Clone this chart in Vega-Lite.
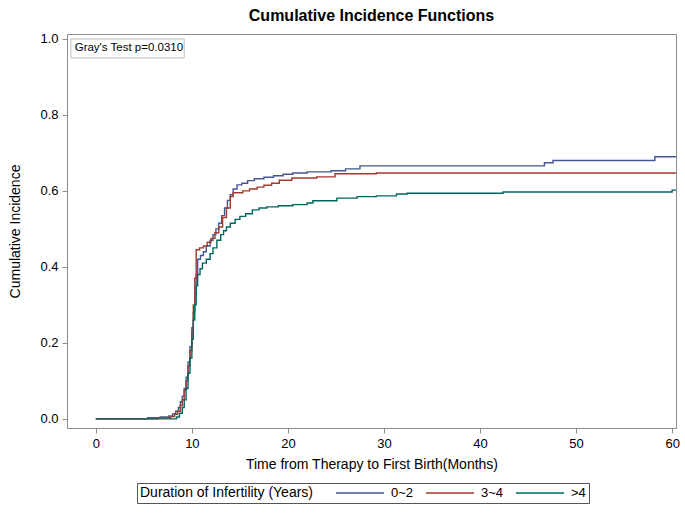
{
  "$schema": "https://vega.github.io/schema/vega-lite/v6.json",
  "width": 609,
  "height": 394,
  "autosize": "none",
  "padding": {"left": 67, "top": 34, "right": 9, "bottom": 85},
  "background": "white",
  "config": {
    "font": "Liberation Sans",
    "view": {"stroke": "#8c8c8c", "strokeWidth": 1}
  },
  "title": {
    "text": "Cumulative Incidence Functions",
    "font": "Liberation Sans",
    "fontSize": 16,
    "fontWeight": "bold",
    "color": "#000000",
    "anchor": "middle",
    "offset": 9
  },
  "datasets": {
    "curves": [
      {"t": 0, "v": 0, "g": "0~2"},
      {"t": 5.4, "v": 0.003, "g": "0~2"},
      {"t": 6.7, "v": 0.005, "g": "0~2"},
      {"t": 7.6, "v": 0.008, "g": "0~2"},
      {"t": 8.0, "v": 0.013, "g": "0~2"},
      {"t": 8.3, "v": 0.02, "g": "0~2"},
      {"t": 8.6, "v": 0.03, "g": "0~2"},
      {"t": 8.8, "v": 0.045, "g": "0~2"},
      {"t": 9.0, "v": 0.06, "g": "0~2"},
      {"t": 9.2, "v": 0.08, "g": "0~2"},
      {"t": 9.4, "v": 0.11, "g": "0~2"},
      {"t": 9.6, "v": 0.15, "g": "0~2"},
      {"t": 9.8, "v": 0.19, "g": "0~2"},
      {"t": 10.0, "v": 0.23, "g": "0~2"},
      {"t": 10.15, "v": 0.28, "g": "0~2"},
      {"t": 10.3, "v": 0.33, "g": "0~2"},
      {"t": 10.45, "v": 0.38, "g": "0~2"},
      {"t": 10.6, "v": 0.42, "g": "0~2"},
      {"t": 10.9, "v": 0.43, "g": "0~2"},
      {"t": 11.2, "v": 0.44, "g": "0~2"},
      {"t": 11.5, "v": 0.455, "g": "0~2"},
      {"t": 11.9, "v": 0.47, "g": "0~2"},
      {"t": 12.2, "v": 0.485, "g": "0~2"},
      {"t": 12.5, "v": 0.5, "g": "0~2"},
      {"t": 12.8, "v": 0.515, "g": "0~2"},
      {"t": 13.1, "v": 0.535, "g": "0~2"},
      {"t": 13.4, "v": 0.555, "g": "0~2"},
      {"t": 13.7, "v": 0.575, "g": "0~2"},
      {"t": 14.0, "v": 0.59, "g": "0~2"},
      {"t": 14.3, "v": 0.605, "g": "0~2"},
      {"t": 14.7, "v": 0.616, "g": "0~2"},
      {"t": 15.2, "v": 0.62, "g": "0~2"},
      {"t": 15.8, "v": 0.627, "g": "0~2"},
      {"t": 16.5, "v": 0.632, "g": "0~2"},
      {"t": 17.5, "v": 0.636, "g": "0~2"},
      {"t": 18.5, "v": 0.64, "g": "0~2"},
      {"t": 19.5, "v": 0.644, "g": "0~2"},
      {"t": 20.5, "v": 0.647, "g": "0~2"},
      {"t": 22.0, "v": 0.65, "g": "0~2"},
      {"t": 24.5, "v": 0.653, "g": "0~2"},
      {"t": 26.0, "v": 0.658, "g": "0~2"},
      {"t": 27.5, "v": 0.666, "g": "0~2"},
      {"t": 46.7, "v": 0.674, "g": "0~2"},
      {"t": 47.6, "v": 0.68, "g": "0~2"},
      {"t": 58.2, "v": 0.69, "g": "0~2"},
      {"t": 60.4, "v": 0.69, "g": "0~2"},

      {"t": 0, "v": 0, "g": "3~4"},
      {"t": 6.5, "v": 0.003, "g": "3~4"},
      {"t": 7.8, "v": 0.006, "g": "3~4"},
      {"t": 8.2, "v": 0.012, "g": "3~4"},
      {"t": 8.5, "v": 0.02, "g": "3~4"},
      {"t": 8.8, "v": 0.035, "g": "3~4"},
      {"t": 9.0, "v": 0.05, "g": "3~4"},
      {"t": 9.2, "v": 0.075, "g": "3~4"},
      {"t": 9.4, "v": 0.1, "g": "3~4"},
      {"t": 9.6, "v": 0.14, "g": "3~4"},
      {"t": 9.8, "v": 0.18, "g": "3~4"},
      {"t": 10.0, "v": 0.24, "g": "3~4"},
      {"t": 10.15, "v": 0.3, "g": "3~4"},
      {"t": 10.3, "v": 0.37, "g": "3~4"},
      {"t": 10.45, "v": 0.445, "g": "3~4"},
      {"t": 10.8, "v": 0.45, "g": "3~4"},
      {"t": 11.2, "v": 0.455, "g": "3~4"},
      {"t": 11.6, "v": 0.465, "g": "3~4"},
      {"t": 12.0, "v": 0.475, "g": "3~4"},
      {"t": 12.4, "v": 0.49, "g": "3~4"},
      {"t": 12.8, "v": 0.505, "g": "3~4"},
      {"t": 13.2, "v": 0.53, "g": "3~4"},
      {"t": 13.6, "v": 0.555, "g": "3~4"},
      {"t": 14.0, "v": 0.585, "g": "3~4"},
      {"t": 14.3, "v": 0.595, "g": "3~4"},
      {"t": 15.3, "v": 0.6, "g": "3~4"},
      {"t": 16.0, "v": 0.605, "g": "3~4"},
      {"t": 16.8, "v": 0.61, "g": "3~4"},
      {"t": 17.5, "v": 0.615, "g": "3~4"},
      {"t": 18.3, "v": 0.62, "g": "3~4"},
      {"t": 19.1, "v": 0.628, "g": "3~4"},
      {"t": 20.4, "v": 0.634, "g": "3~4"},
      {"t": 23.0, "v": 0.637, "g": "3~4"},
      {"t": 24.9, "v": 0.645, "g": "3~4"},
      {"t": 29.2, "v": 0.647, "g": "3~4"},
      {"t": 60.4, "v": 0.647, "g": "3~4"},

      {"t": 0, "v": 0, "g": ">4"},
      {"t": 8.4, "v": 0.005, "g": ">4"},
      {"t": 8.7, "v": 0.015, "g": ">4"},
      {"t": 9.0, "v": 0.03, "g": ">4"},
      {"t": 9.2, "v": 0.05, "g": ">4"},
      {"t": 9.4, "v": 0.08, "g": ">4"},
      {"t": 9.6, "v": 0.12, "g": ">4"},
      {"t": 9.8, "v": 0.16, "g": ">4"},
      {"t": 10.0, "v": 0.21, "g": ">4"},
      {"t": 10.15, "v": 0.26, "g": ">4"},
      {"t": 10.3, "v": 0.3, "g": ">4"},
      {"t": 10.45, "v": 0.35, "g": ">4"},
      {"t": 10.6, "v": 0.38, "g": ">4"},
      {"t": 10.85, "v": 0.395, "g": ">4"},
      {"t": 11.1, "v": 0.41, "g": ">4"},
      {"t": 11.5, "v": 0.42, "g": ">4"},
      {"t": 11.9, "v": 0.435, "g": ">4"},
      {"t": 12.2, "v": 0.45, "g": ">4"},
      {"t": 12.6, "v": 0.47, "g": ">4"},
      {"t": 13.0, "v": 0.485, "g": ">4"},
      {"t": 13.3, "v": 0.495, "g": ">4"},
      {"t": 13.6, "v": 0.505, "g": ">4"},
      {"t": 14.0, "v": 0.515, "g": ">4"},
      {"t": 14.5, "v": 0.525, "g": ">4"},
      {"t": 15.0, "v": 0.533, "g": ">4"},
      {"t": 15.6, "v": 0.54, "g": ">4"},
      {"t": 16.3, "v": 0.55, "g": ">4"},
      {"t": 17.0, "v": 0.555, "g": ">4"},
      {"t": 17.8, "v": 0.558, "g": ">4"},
      {"t": 19.0, "v": 0.561, "g": ">4"},
      {"t": 20.5, "v": 0.564, "g": ">4"},
      {"t": 22.0, "v": 0.568, "g": ">4"},
      {"t": 22.6, "v": 0.574, "g": ">4"},
      {"t": 25.1, "v": 0.581, "g": ">4"},
      {"t": 27.2, "v": 0.585, "g": ">4"},
      {"t": 29.2, "v": 0.587, "g": ">4"},
      {"t": 31.3, "v": 0.592, "g": ">4"},
      {"t": 32.4, "v": 0.594, "g": ">4"},
      {"t": 42.4, "v": 0.597, "g": ">4"},
      {"t": 60.0, "v": 0.602, "g": ">4"},
      {"t": 60.4, "v": 0.602, "g": ">4"}
    ],
    "note": [
      {"x1": -2.6, "x2": 9.2, "y1": 0.95, "y2": 1.0, "tx": -2.2, "ty": 0.975, "label": "Gray's Test p=0.0310"}
    ]
  },
  "layer": [
    {
      "data": {"name": "curves"},
      "mark": {"type": "line", "interpolate": "step-after", "strokeWidth": 1.4, "clip": true},
      "encoding": {
        "x": {
          "field": "t",
          "type": "quantitative",
          "scale": {"domain": [-3, 60.4], "nice": false, "zero": false},
          "axis": {
            "title": "Time from Therapy to First Birth(Months)",
            "values": [0, 10, 20, 30, 40, 50, 60],
            "grid": false,
            "domain": false,
            "tickColor": "#8c8c8c",
            "tickSize": 5,
            "labelFontSize": 13,
            "labelColor": "#000000",
            "labelPadding": 4,
            "titleFontSize": 14,
            "titleFontWeight": "normal",
            "titleColor": "#000000",
            "titlePadding": 7
          }
        },
        "y": {
          "field": "v",
          "type": "quantitative",
          "scale": {"domain": [-0.024, 1.013], "nice": false, "zero": false},
          "axis": {
            "title": "Cumulative Incidence",
            "values": [0, 0.2, 0.4, 0.6, 0.8, 1.0],
            "format": ".1f",
            "grid": false,
            "domain": false,
            "tickColor": "#8c8c8c",
            "tickSize": 5,
            "labelFontSize": 13,
            "labelColor": "#000000",
            "labelPadding": 4,
            "titleFontSize": 14,
            "titleFontWeight": "normal",
            "titleColor": "#000000",
            "titlePadding": 17
          }
        },
        "color": {
          "field": "g",
          "type": "nominal",
          "sort": ["0~2", "3~4", ">4"],
          "scale": {"domain": ["0~2", "3~4", ">4"], "range": ["#445694", "#A23A2E", "#01665E"]},
          "legend": {
            "title": "Duration of Infertility (Years)",
            "orient": "none",
            "legendX": 70,
            "legendY": 449,
            "direction": "horizontal",
            "titleOrient": "left",
            "titleAnchor": "middle",
            "titleFontSize": 14,
            "titleFontWeight": "normal",
            "titleColor": "#000000",
            "titlePadding": 40,
            "labelFontSize": 13,
            "labelColor": "#000000",
            "labelOffset": 24,
            "symbolType": "M-4,0H4",
            "symbolSize": 144,
            "symbolStrokeWidth": 1.4,
            "columnPadding": 9,
            "strokeColor": "#555555",
            "padding": 3
          }
        }
      }
    },
    {
      "data": {"name": "note"},
      "mark": {"type": "rect", "fill": "white", "stroke": "#bbbbbb", "strokeWidth": 1},
      "encoding": {
        "x": {"field": "x1", "type": "quantitative"},
        "x2": {"field": "x2"},
        "y": {"field": "y1", "type": "quantitative"},
        "y2": {"field": "y2"}
      }
    },
    {
      "data": {"name": "note"},
      "mark": {"type": "text", "align": "left", "baseline": "middle", "fontSize": 11.5, "color": "#000000"},
      "encoding": {
        "x": {"field": "tx", "type": "quantitative"},
        "y": {"field": "ty", "type": "quantitative"},
        "text": {"field": "label"}
      }
    }
  ]
}
